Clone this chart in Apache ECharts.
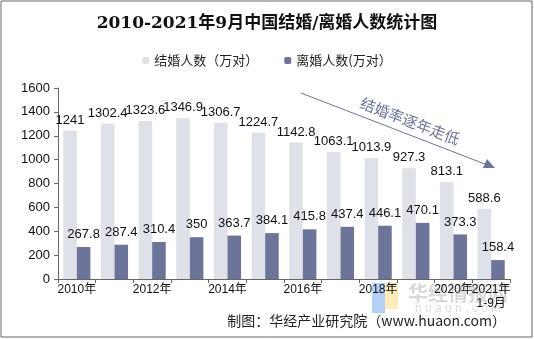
<!DOCTYPE html>
<html><head><meta charset="utf-8">
<script src="https://cdn.jsdelivr.net/npm/echarts@6/dist/echarts.min.js"></script>
<style>html,body{margin:0;padding:0;background:#fff}#c{width:534px;height:339px}</style>
</head><body><div id="c"></div>
<script>
var categories = ["2010年","2011年","2012年","2013年","2014年","2015年","2016年","2017年","2018年","2019年","2020年","2021年\n1-9月"];
var shownLabels = ["2010年","","2012年","","2014年","","2016年","","2018年","","2020年","2021年\n1-9月"];
var marriage = [1241,1302.4,1323.6,1346.9,1306.7,1224.7,1142.8,1063.1,1013.9,927.3,813.1,588.6];
var divorce = [267.8,287.4,310.4,350,363.7,384.1,415.8,437.4,446.1,470.1,373.3,158.4];
var yTicks = [0,200,400,600,800,1000,1200,1400,1600];

var chart = echarts.init(document.getElementById('c'), null, {renderer:'canvas'});
var lblFont = 'Arial, "Liberation Sans", "Noto Sans CJK SC"';
chart.setOption({
  animation:false,
  backgroundColor:'#fff',
  title:{
    text:'2010-2021年9月中国结婚/离婚人数统计图',
    left:'center', top:10,
    textStyle:{fontFamily:'"DejaVu Serif","Noto Sans CJK SC"', fontWeight:'bold', fontSize:17, color:'#111'}
  },
  legend:{
    top:49, left:'center', itemWidth:7, itemHeight:7, itemGap:26,
    textStyle:{fontFamily:'"Noto Sans CJK SC"', fontSize:13, color:'#222'},
    data:['结婚人数（万对）','离婚人数(万对）']
  },
  grid:{left:58, right:24, top:88, bottom:60, containLabel:false},
  xAxis:{
    type:'category', data:categories,
    axisLine:{lineStyle:{color:'#666'}},
    axisTick:{show:true, interval:0, lineStyle:{color:'#666'}, length:4},
    axisLabel:{
      interval:0, margin:4, color:'#111', fontFamily:lblFont, fontSize:12, lineHeight:14,
      formatter:function(v,i){return shownLabels[i];}
    }
  },
  yAxis:{
    type:'value', min:yTicks[0], max:yTicks[yTicks.length-1], interval:200,
    axisLine:{show:true, lineStyle:{color:'#666'}},
    axisTick:{show:true, lineStyle:{color:'#666'}, length:4},
    splitLine:{show:false},
    axisLabel:{color:'#111', fontFamily:lblFont, fontSize:13, margin:8, formatter:function(v){return String(v);}}
  },
  series:[
    {name:'结婚人数（万对）', type:'bar', data:marriage, barWidth:'36%', barGap:'0%',
     itemStyle:{color:'#dfe1e9'},
     label:{show:true, position:'top', distance:4, color:'#111', fontFamily:lblFont, fontSize:13}},
    {name:'离婚人数(万对）', type:'bar', data:divorce, barWidth:'36%', barGap:'0%',
     itemStyle:{color:'#6c7499'},
     label:{show:true, position:'top', distance:6, color:'#111', fontFamily:lblFont, fontSize:13}}
  ],
  graphic:[
    {type:'rect', shape:{x:1,y:1,width:531,height:336}, style:{fill:null, stroke:'#666', lineWidth:1}, silent:true},
    {type:'line', shape:{x1:301,y1:93,x2:490,y2:166}, style:{stroke:'#6c7499', lineWidth:1}},
    {type:'polygon', shape:{points:[[495,168],[483,168],[487,159]]}, style:{fill:'#6c7499'}},
    {type:'text', x:410, y:121, rotation:-21*Math.PI/180, style:{text:'结婚率逐年走低', fontFamily:'"Noto Sans CJK SC"', fontSize:15, fill:'#6c7499', align:'center', verticalAlign:'middle'}},
    {type:'rect', shape:{x:372,y:283,width:13,height:30}, style:{fill:'rgba(120,170,240,0.55)'}, z:-1},
    {type:'rect', shape:{x:385,y:283,width:13,height:26}, style:{fill:'rgba(250,225,140,0.6)'}, z:-1},
    {type:'text', x:458, y:293, style:{text:'华经情报网', fontFamily:'"Noto Sans CJK SC"', fontWeight:'bold', fontSize:20, fill:'rgba(170,170,170,0.45)', align:'center', verticalAlign:'middle'}, z:-1},
    {type:'text', x:458, y:309, style:{text:'h u a o n . c o m', fontFamily:'Arial', fontSize:12, fill:'rgba(170,170,170,0.4)', align:'center', verticalAlign:'middle'}, z:-1},
    {type:'text', right:28, top:314, style:{text:'制图：华经产业研究院（www.huaon.com）', fontFamily:'"Noto Sans CJK SC"', fontSize:14, fill:'#222'}}
  ]
});
</script></body></html>
